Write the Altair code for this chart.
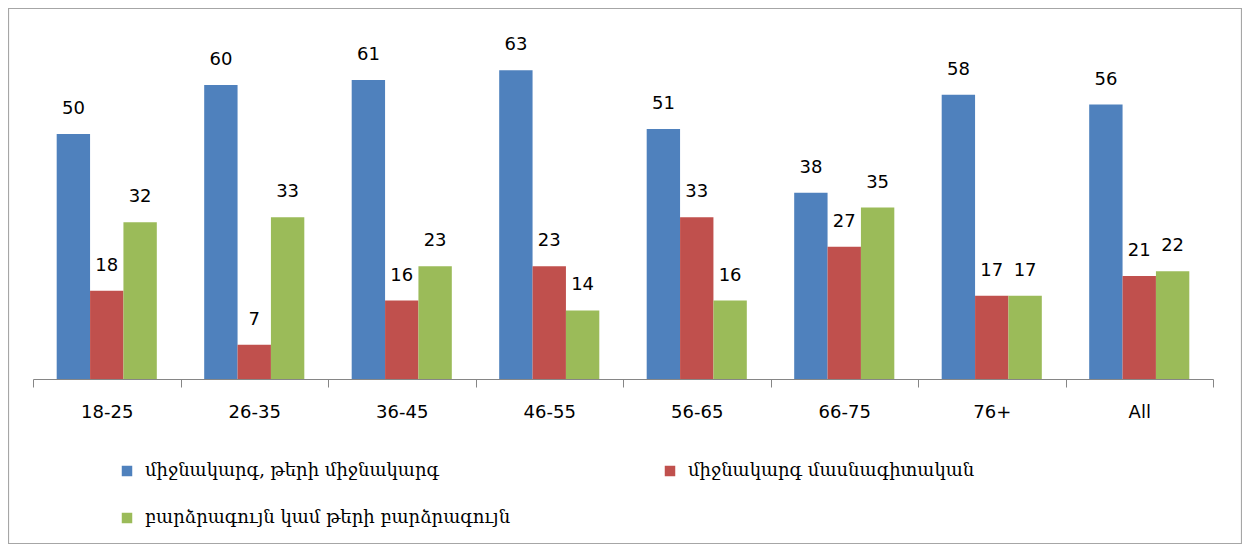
import altair as alt
import pandas as pd

categories = ["18-25", "26-35", "36-45", "46-55", "56-65", "66-75", "76+", "All"]
series_names = [
    "միջնակարգ, թերի միջնակարգ",
    "միջնակարգ մասնագիտական",
    "բարձրագույն կամ թերի բարձրագույն",
]
blue_vals = [50, 60, 61, 63, 51, 38, 58, 56]
red_vals = [18, 7, 16, 23, 33, 27, 17, 21]
green_vals = [32, 33, 23, 14, 16, 35, 17, 22]
colors = ["#4F81BD", "#C0504D", "#9BBB59"]

rows = []
for name, vals in zip(series_names, [blue_vals, red_vals, green_vals]):
    for c, v in zip(categories, vals):
        rows.append({"cat": c, "series": name, "value": v})
df = pd.DataFrame(rows)

W, H = 1180, 343
PL, PT, PR = 25, 28, 29
PB = 536 - PT - H

base = alt.Chart(df).encode(
    x=alt.X("cat:N", sort=categories,
            scale=alt.Scale(paddingInner=0, paddingOuter=0),
            axis=alt.Axis(title=None, labelAngle=0, tickBand="extent",
                          domainColor="#868686", tickColor="#868686",
                          tickSize=8, labelFontSize=18, labelFont="DejaVu Sans",
                          labelColor="#000000", labelPadding=16, grid=False)),
    xOffset=alt.XOffset("series:N", sort=series_names,
                        scale=alt.Scale(paddingOuter=0.71, paddingInner=0)),
    y=alt.Y("value:Q", scale=alt.Scale(domain=[0, 70], nice=False), axis=None),
)

bars = base.mark_bar().encode(
    color=alt.Color("series:N", sort=series_names,
                    scale=alt.Scale(domain=series_names, range=colors),
                    legend=alt.Legend(title=None, orient="none", legendX=85, legendY=426,
                                      direction="horizontal", columns=2,
                                      columnPadding=150, rowPadding=29,
                                      symbolType="square", symbolSize=110,
                                      symbolStrokeWidth=0, labelOffset=9,
                                      labelFont="DejaVu Serif", labelFontSize=18,
                                      labelColor="#000000", padding=0, labelLimit=0)),
)

labels = base.mark_text(baseline="bottom", dy=-16, fontSize=18,
                        font="DejaVu Sans", color="#000000").encode(
    text=alt.Text("value:Q"))

border = alt.Chart(pd.DataFrame({"a": [0]})).mark_rect(
    fill=None, stroke="#a6a6a6", strokeWidth=1.2).encode(
    x=alt.value(-PL + 0.5), x2=alt.value(W + PR - 0.5),
    y=alt.value(-PT + 0.5), y2=alt.value(H + PB - 0.5))

chart = alt.layer(border, bars, labels).properties(
    width=W, height=H,
    autosize=alt.AutoSizeParams(type="none"),
    padding={"left": PL, "top": PT, "right": PR, "bottom": PB},
).configure_view(stroke=None)

chart.save("out.html", embed_options={"renderer": "svg", "actions": False})
